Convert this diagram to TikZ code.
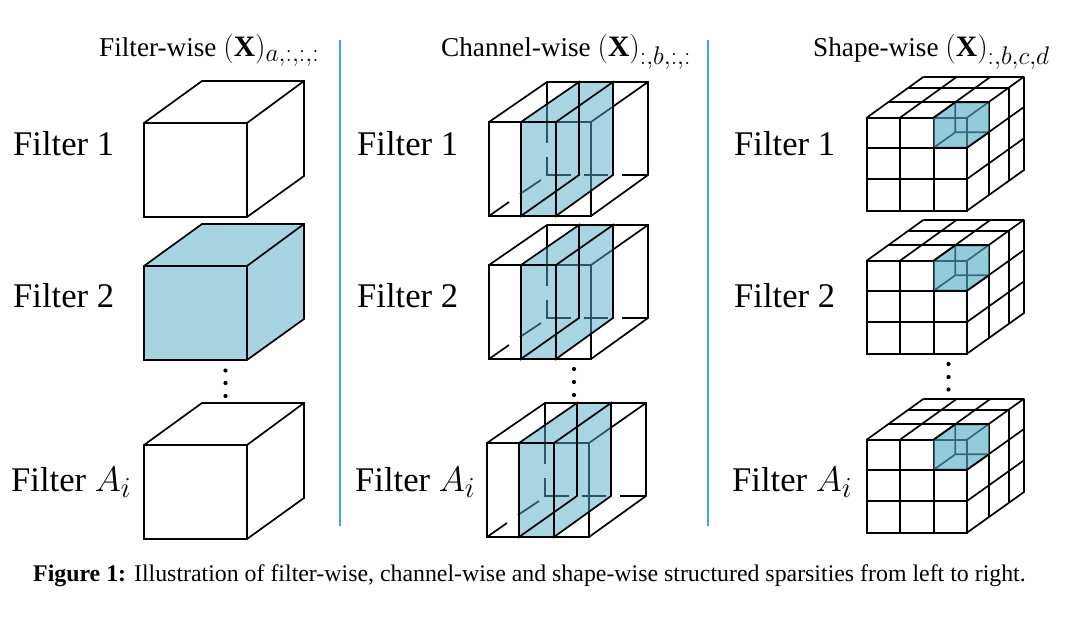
\RequirePackage{fix-cm}
\documentclass[tikz,border=0pt]{standalone}
\usepackage{fontspec}
\setmainfont{Liberation Serif}
\DeclareMathSizes{27.2}{29.6}{25.5}{18}
\DeclareMathSizes{34.6}{35.5}{29}{21}
\definecolor{slabtint}{RGB}{82,172,197}
\definecolor{solidblue}{RGB}{168,212,226}
\definecolor{rulecyan}{RGB}{62,170,220}
\tikzset{
  edgeline/.style={draw=black,line width=1.7pt,line join=miter},
  tintfill/.style={fill=slabtint,fill opacity=.5,draw=none},
  rowlabel/.style={font=\fontsize{34.6}{40}\selectfont,anchor=base west,inner sep=0pt},
  titlelabel/.style={font=\fontsize{27.2}{32}\selectfont,anchor=base west,inner sep=0pt},
  sepline/.style={draw=rulecyan,line width=1.2pt},
  dotmark/.style={circle,fill=black,inner sep=0pt,minimum size=4.2pt}
}
\newcommand{\filtercube}[1]{%
  \path[edgeline,fill=#1] (144,123) -- (202,81) -- (304,81) -- (304,176) -- (247,217) -- (144,217) -- cycle;
  \draw[edgeline] (144,123) -- (247,123) -- (304,81) (247,123) -- (247,217);
}
\newcommand{\channelcube}{%
  \draw[edgeline] (489,122) -- (591,122) -- (591,216) -- (489,216) -- cycle;
  \draw[edgeline] (489,122) -- (547,82) -- (648,82) -- (648,175) -- (591,216);
  \draw[edgeline] (591,122) -- (648,82);
  \draw[edgeline] (547,82) -- (547,122);
  \draw[edgeline] (547,119) -- (547,143) (547,157) -- (547,175) -- (571,175) (584,175) -- (608,175) (622,175) -- (648,175);
  \draw[edgeline] (489,216) -- (509,202) (520,194) -- (541,180);
  \fill[tintfill] (521,122) -- (579,82) -- (613,82) -- (613,175) -- (556,216) -- (521,216) -- cycle;
  \draw[edgeline] (521,122) -- (521,216) -- (579,175) -- (579,82) -- (521,122);
  \draw[edgeline] (556,122) -- (556,216) -- (613,175) -- (613,82) -- (556,122);
  \draw[edgeline] (521,122) -- (556,122) (521,216) -- (556,216) (579,82) -- (613,82);
}
\newcommand{\shapecube}{%
  \draw[edgeline] (866.7,117.7) rectangle (967,210.7);
  \draw[edgeline] (900,117.7) -- (900,210.7) (933.7,117.7) -- (933.7,210.7);
  \draw[edgeline] (866.7,147.7) -- (967,147.7) (866.7,179) -- (967,179);
  % top face
  \draw[edgeline] (866.7,117.7) -- (923.7,76.7) (900,117.7) -- (957,76.7) (933.7,117.7) -- (990.7,76.7) (967,117.7) -- (1024,76.7);
  \draw[edgeline] (923.7,76.7) -- (1024,76.7) (908.7,87.7) -- (1009,87.7) (888.7,102.3) -- (989,102.3);
  % right face
  \draw[edgeline] (1024,76.7) -- (1024,170) -- (967,210.7);
  \draw[edgeline] (989,102.3) -- (989,195.3) (1009,87.7) -- (1009,180.7);
  \draw[edgeline] (967,147.7) -- (1024,107) (967,179) -- (1024,138.3);
  % small hidden cube
  \draw[edgeline] (955.3,102.3) -- (955.3,132.3) -- (989,132.3) (933.7,147.7) -- (955.3,132.3);
  \fill[tintfill,fill opacity=.62] (933.7,117.7) -- (955.3,102.3) -- (989,102.3) -- (989,132.3) -- (967,147.7) -- (933.7,147.7) -- cycle;
  \draw[edgeline] (933.7,117.7) -- (955.3,102.3) -- (989,102.3) (933.7,147.7) -- (967,147.7) -- (989,132.3);
}
\begin{document}
\begin{tikzpicture}[x=1pt,y=-1pt]
\useasboundingbox (0,0) rectangle (1072,628);
\fill[white] (0,0) rectangle (1072,628);
% titles
\node[titlelabel] (t1) at (99,57) {Filter-wise $(\mathbf{X})_{a,:,:,:}$};
\node[titlelabel] (t2) at (441,57) {Channel-wise $(\mathbf{X})_{:,b,:,:}$};
\node[titlelabel] (t3) at (813,57) {Shape-wise $(\mathbf{X})_{:,b,c,d}$};
% separators
\draw[sepline] (340,40) -- (340,526);
\draw[sepline] (708,40) -- (708,526);
% row labels
\node[rowlabel] (a1) at (13,156) {Filter 1};
\node[rowlabel] (a2) at (13,308) {Filter 2};
\node[rowlabel] (a3) at (11,491) {Filter $A_i$};
\node[rowlabel] (b1) at (357,156) {Filter 1};
\node[rowlabel] (b2) at (357,308) {Filter 2};
\node[rowlabel] (b3) at (355,491) {Filter $A_i$};
\node[rowlabel] (c1) at (734,156) {Filter 1};
\node[rowlabel] (c2) at (734,308) {Filter 2};
\node[rowlabel] (c3) at (732,491) {Filter $A_i$};
% column 1
\begin{scope}\filtercube{white}\end{scope}
\begin{scope}[shift={(0,143)}]\filtercube{solidblue}\end{scope}
\begin{scope}[shift={(0,322)}]\filtercube{white}\end{scope}
% column 2
\begin{scope}\channelcube\end{scope}
\begin{scope}[shift={(0,143)}]\channelcube\end{scope}
\begin{scope}[shift={(-2,321)}]\channelcube\end{scope}
% column 3
\begin{scope}\shapecube\end{scope}
\begin{scope}[shift={(0,143)}]\shapecube\end{scope}
\begin{scope}[shift={(0,322)}]\shapecube\end{scope}
% vertical dots
\foreach \cx/\cy in {225.5/370.5,225.5/383,225.5/396,574/369,574/382,574/395,948.5/364,948.5/377,948.5/389.5}
  \node[dotmark] at (\cx,\cy) {};
% caption
\node[font=\fontsize{23.85}{28}\selectfont,anchor=base west,inner sep=0pt] (cap) at (33,581) {\textbf{Figure 1:} Illustration of filter-wise, channel-wise and shape-wise structured sparsities from left to right.};
\end{tikzpicture}
\end{document}
